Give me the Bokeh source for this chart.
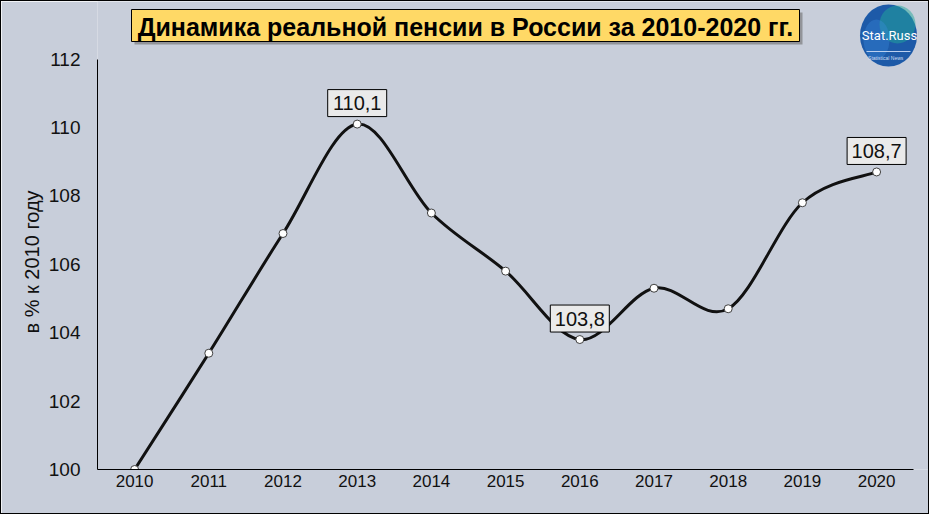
import numpy as np
from bokeh.plotting import figure
from bokeh.models import Range1d, FixedTicker, ColumnDataSource, Title
from bokeh.core.properties import value
from bokeh.embed import file_html
from bokeh.resources import INLINE

# ---------------- data ----------------
years = [2010, 2011, 2012, 2013, 2014, 2015, 2016, 2017, 2018, 2019, 2020]
year_labels = [str(y) for y in years]
real_pension = [100.0, 103.4, 106.9, 110.1, 107.5, 105.8, 103.8, 105.3, 104.7, 107.8, 108.7]
labelled_years = [2013, 2016, 2020]
y_ticks = [100, 102, 104, 106, 108, 110, 112]

title_text = "Динамика реальной пенсии в России за 2010-2020 гг."
y_axis_title = "в % к 2010 году"

# ---------------- layout constants (figure pixels) ----------------
BG = "#C8CEDA"
FIG_W, FIG_H = 927, 512
FRAME_LEFT_PX = 96      # x of y axis
AXIS_BOTTOM_PX = 468    # y of x axis
PX_PER_YEAR = 74.2
PX_PER_UNIT = 34.2
FRAME_W = FIG_W - FRAME_LEFT_PX
FRAME_H = AXIS_BOTTOM_PX

x_start = years[0] - 0.5
y_start = y_ticks[0]
x_end = x_start + FRAME_W / PX_PER_YEAR
y_end = y_start + FRAME_H / PX_PER_UNIT


def dx(px):
    return x_start + (px - FRAME_LEFT_PX) / PX_PER_YEAR


def dy(py):
    return y_start + (AXIS_BOTTOM_PX - py) / PX_PER_UNIT


p = figure(
    frame_width=FRAME_W, frame_height=FRAME_H,
    x_range=Range1d(x_start, x_end), y_range=Range1d(y_start, y_end),
    output_backend="svg", toolbar_location=None,
    min_border_left=FRAME_LEFT_PX, min_border_right=0, min_border_top=0,
    min_border_bottom=FIG_H - AXIS_BOTTOM_PX,
    background_fill_color=BG, border_fill_color=BG, outline_line_color=None,
    styles={"border": "1px solid black"},
)
p.grid.visible = False

# axes
p.xaxis.ticker = FixedTicker(ticks=years)
p.xaxis.major_label_overrides = {y: l for y, l in zip(years, year_labels)}
p.xaxis.bounds = (x_start, years[-1] + 0.5)
p.yaxis.ticker = FixedTicker(ticks=y_ticks)
p.yaxis.bounds = (y_ticks[0], y_ticks[-1])
for ax in (p.xaxis, p.yaxis):
    ax.axis_line_color = "black"
    ax.axis_line_width = 1
    ax.major_tick_line_color = None
    ax.minor_tick_line_color = None
    ax.major_tick_out = 0
    ax.major_tick_in = 0
    ax.major_label_text_color = "#111111"
p.xaxis.major_label_text_font = "Liberation Sans"
p.xaxis.major_label_text_font_size = "17px"
p.xaxis.major_label_standoff = 5
p.yaxis.major_label_text_font = "Liberation Sans"
p.yaxis.major_label_text_font_size = "19px"
p.yaxis.major_label_standoff = 17

# y axis title (vertical, placed along the axis extent)
p.add_layout(Title(text=y_axis_title, align="left", offset=136,
                   vertical_align="middle", standoff=4,
                   text_font="Liberation Sans", text_font_style="normal",
                   text_font_size="20px", text_color="#111111"), "left")

# smoothed line (Bezier segments through the data points)
xs = np.array(years, dtype=float)
ys = np.array(real_pension, dtype=float)
n = len(xs)
seg = dict(x0=[], y0=[], x1=[], y1=[], cx0=[], cy0=[], cx1=[], cy1=[])
for i in range(n - 1):
    a = max(i - 1, 0)
    d = min(i + 2, n - 1)
    seg["x0"].append(xs[i]); seg["y0"].append(ys[i])
    seg["x1"].append(xs[i + 1]); seg["y1"].append(ys[i + 1])
    seg["cx0"].append(xs[i] + (xs[i + 1] - xs[a]) / 6)
    seg["cy0"].append(ys[i] + (ys[i + 1] - ys[a]) / 6)
    seg["cx1"].append(xs[i + 1] - (xs[d] - xs[i]) / 6)
    seg["cy1"].append(ys[i + 1] - (ys[d] - ys[i]) / 6)
p.bezier(source=ColumnDataSource(seg), x0="x0", y0="y0", x1="x1", y1="y1",
         cx0="cx0", cy0="cy0", cx1="cx1", cy1="cy1",
         line_color="#111111", line_width=3)

p.scatter(years, real_pension, size=8, fill_color="white",
          line_color="#404040", line_width=1)

# data labels (boxed)
LABEL_LIFT = 21 / PX_PER_UNIT
lab_idx = [years.index(y) for y in labelled_years]
lab_src = ColumnDataSource(dict(
    x=[years[i] for i in lab_idx],
    y=[real_pension[i] + LABEL_LIFT for i in lab_idx],
    t=[f"{real_pension[i]:.1f}".replace(".", ",") for i in lab_idx],
))
p.rect(x="x", y="y", width=59, height=27, width_units="screen", height_units="screen",
       source=lab_src, fill_color="#EAEAEA", line_color="black", line_width=1)
p.text(x="x", y="y", text="t", source=lab_src, text_align="center",
       text_baseline="middle", text_font=value("Liberation Sans"),
       text_font_size="20px", text_color="#111111")

# title box with shadow
TITLE_CX, TITLE_CY, TITLE_W, TITLE_H = 464, 24, 668, 32
p.rect([dx(TITLE_CX + 3)], [dy(TITLE_CY + 3)], width=TITLE_W, height=TITLE_H,
       width_units="screen", height_units="screen",
       fill_color="#6E6E6E", fill_alpha=0.6, line_color=None)
p.rect([dx(TITLE_CX)], [dy(TITLE_CY)], width=TITLE_W, height=TITLE_H,
       width_units="screen", height_units="screen",
       fill_color="#FFD966", line_color="black", line_width=1)
p.text([dx(TITLE_CX)], [dy(TITLE_CY + 1)], text=[title_text],
       text_font=value("Liberation Sans"), text_font_style="bold",
       text_font_size="25px", text_align="center", text_baseline="middle",
       text_color="black")

# logo
LOGO_CX, LOGO_CY = 887, 34
p.ellipse([dx(LOGO_CX)], [dy(LOGO_CY)], width=57, height=62,
          width_units="screen", height_units="screen",
          fill_color="#1D5AA8", line_color=None)
p.ellipse([dx(LOGO_CX + 9)], [dy(LOGO_CY - 11)], width=36, height=38,
          width_units="screen", height_units="screen",
          fill_color="#22A89A", fill_alpha=0.5, line_color=None)
p.ellipse([dx(LOGO_CX - 12)], [dy(LOGO_CY + 4)], width=26, height=40,
          width_units="screen", height_units="screen",
          fill_color="#3C8CE0", fill_alpha=0.35, line_color=None)
p.text([dx(LOGO_CX + 1)], [dy(LOGO_CY)], text=["Stat.Russ"],
       text_font=value("Roboto"), text_font_size="13px",
       text_align="center", text_baseline="middle", text_color="white")
p.segment([dx(LOGO_CX - 22)], [dy(LOGO_CY + 16)], [dx(LOGO_CX + 22)], [dy(LOGO_CY + 16)],
          line_color="#BBD0F0", line_width=1)
p.text([dx(LOGO_CX)], [dy(LOGO_CY + 22)], text=["Statistical     News"],
       text_font=value("Liberation Sans"), text_font_size="5px",
       text_align="center", text_baseline="middle", text_color="#D0DDF0")

open("out.html", "w").write(file_html(p, INLINE))
